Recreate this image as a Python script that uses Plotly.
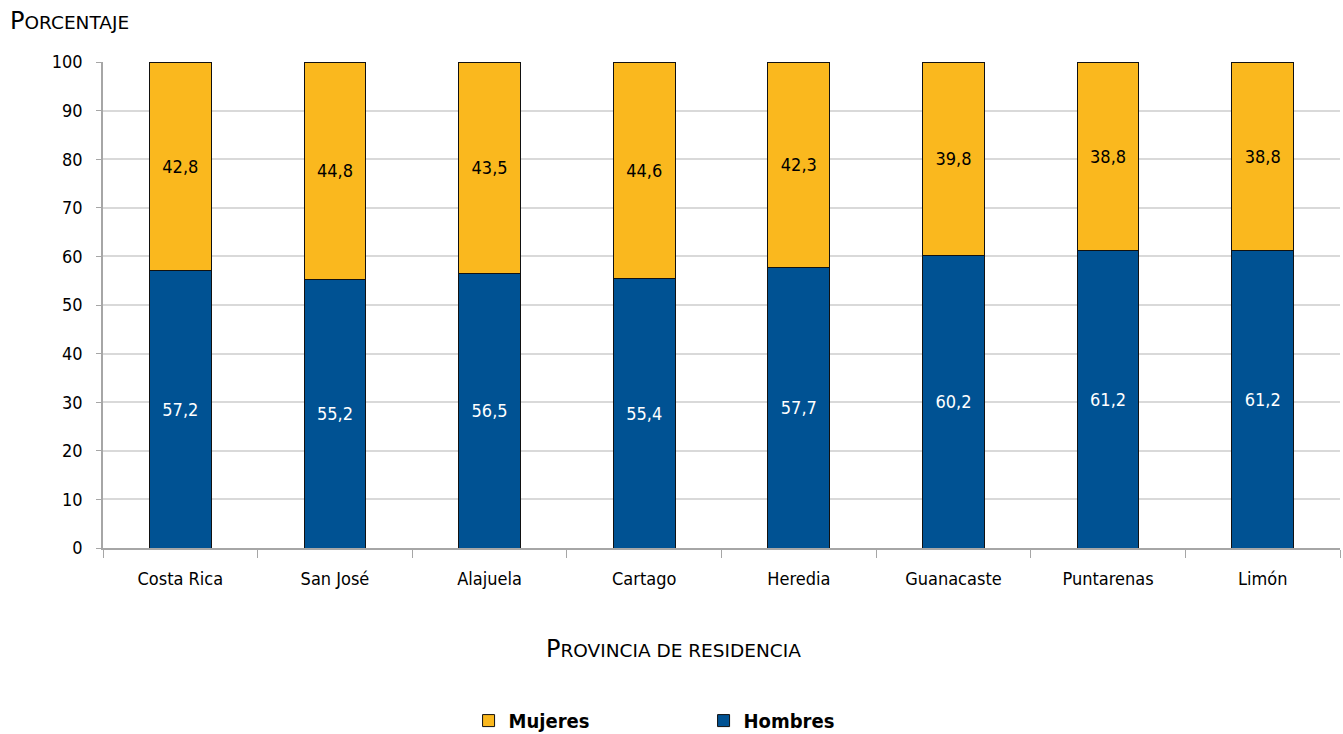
import plotly.graph_objects as go

categorias = ["Costa Rica", "San José", "Alajuela", "Cartago", "Heredia", "Guanacaste", "Puntarenas", "Limón"]
hombres = [57.2, 55.2, 56.5, 55.4, 57.7, 60.2, 61.2, 61.2]
mujeres = [42.8, 44.8, 43.5, 44.6, 42.3, 39.8, 38.8, 38.8]
y_ticks = list(range(0, 101, 10))

FONT = "DejaVu Sans Condensed, Liberation Sans Narrow, Liberation Sans, sans-serif"
TFONT = "DejaVu Sans, sans-serif"

def fmt(v):
    return f"{v:.1f}".replace(".", ",")

fig = go.Figure()
fig.add_trace(go.Bar(
    x=categorias, y=hombres, name="<b>Hombres</b>",
    marker=dict(color="#005293", line=dict(color="#111111", width=1)),
    text=[fmt(v) for v in hombres], textposition="inside", insidetextanchor="middle",
    textfont=dict(color="white", size=18, family=FONT), textangle=0,
))
fig.add_trace(go.Bar(
    x=categorias, y=mujeres, name="<b>Mujeres</b>",
    marker=dict(color="#FAB81E", line=dict(color="#111111", width=1)),
    text=[fmt(v) for v in mujeres], textposition="inside", insidetextanchor="middle",
    textfont=dict(color="black", size=18, family=FONT), textangle=0,
))

fig.update_layout(
    barmode="stack", bargap=0.6,
    width=1343, height=734,
    margin=dict(l=103, r=3, t=62, b=186, autoexpand=False),
    paper_bgcolor="white", plot_bgcolor="white",
    font=dict(family=FONT, size=18, color="black"),
    showlegend=True,
    legend=dict(orientation="h", x=0.4855, xanchor="center", y=-0.315, yanchor="top",
                traceorder="reversed", entrywidth=190, entrywidthmode="pixels",
                font=dict(size=20, family=FONT), itemwidth=30),
    uniformtext=dict(minsize=18, mode="show"),
)
fig.update_xaxes(
    automargin=False,
    showline=True, linecolor="#A6A6A6", linewidth=1.5,
    ticks="outside", tickson="boundaries", ticklen=8, tickcolor="#A6A6A6",
    tickfont=dict(size=18), showgrid=False, ticklabelstandoff=14,
)
fig.update_yaxes(
    automargin=False,
    range=[0, 100], tickvals=y_ticks, showline=True, linecolor="#A6A6A6", linewidth=1.5,
    ticks="outside", ticklen=5, tickcolor="#A6A6A6", ticklabelstandoff=10,
    gridcolor="#D9D9D9", gridwidth=1.5, tickfont=dict(size=18), zeroline=False,
)
fig.add_annotation(
    text="P<span style='font-size:18.5px'>ORCENTAJE</span>",
    xref="paper", yref="paper", x=-0.0765, y=1.052, xanchor="left", yanchor="bottom",
    showarrow=False, font=dict(size=24, family=TFONT),
)
fig.add_annotation(
    text="P<span style='font-size:18.5px'>ROVINCIA DE RESIDENCIA</span>",
    xref="paper", yref="paper", x=0.4608, y=-0.207, xanchor="center", yanchor="middle",
    showarrow=False, font=dict(size=24, family=TFONT),
)

fig.write_html("out.html", post_script="document.body.style.margin='0';",
               config={"displayModeBar": False})
